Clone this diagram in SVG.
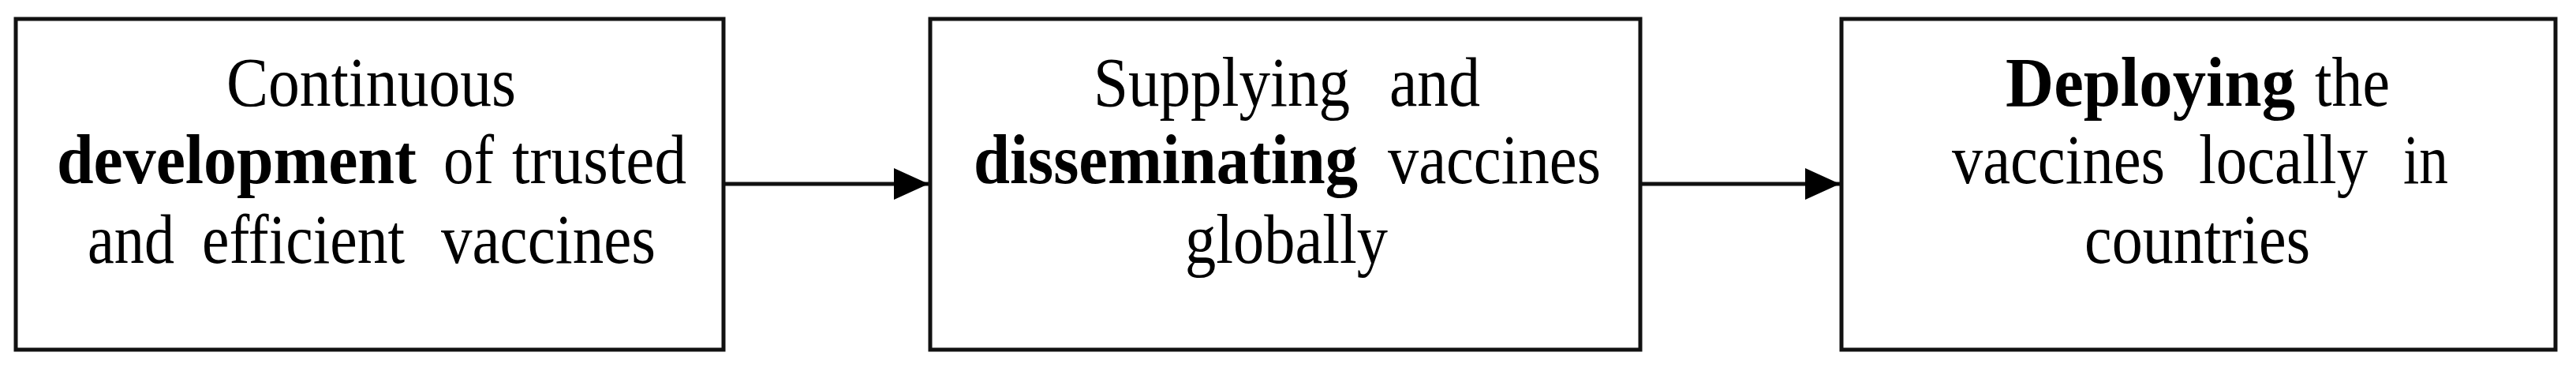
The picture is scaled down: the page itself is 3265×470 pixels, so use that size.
<svg xmlns="http://www.w3.org/2000/svg" width="3265" height="470" viewBox="0 0 3265 470">
<style>
.box{fill:#fff;stroke:#111;stroke-width:5}
.t{font-family:"Liberation Serif","Times New Roman",serif;font-size:88px;fill:#000}
.b{font-weight:bold}
.conn{stroke:#111;stroke-width:5;fill:none}
</style>
<defs>
<marker id="ah" viewBox="0 0 44 40" refX="44" refY="20" markerWidth="44" markerHeight="40" markerUnits="userSpaceOnUse" orient="auto">
<path d="M0,0 L44,20 L0,40 Z" fill="#000"/>
</marker>
</defs>
<rect width="3265" height="470" fill="#fff"/>
<g id="connectors">
<path class="conn" d="M919,233 H1177" marker-end="url(#ah)"/>
<path class="conn" d="M2081,233 H2332" marker-end="url(#ah)"/>
</g>
<g id="node1">
<rect class="box" x="20" y="24" width="897" height="419"/>
<text class="t"><tspan x="287" y="134" textLength="367" lengthAdjust="spacingAndGlyphs">Continuous</tspan></text>
<text class="t"><tspan class="b" x="72" y="232" textLength="456" lengthAdjust="spacingAndGlyphs">development</tspan> <tspan x="562" y="232" textLength="64" lengthAdjust="spacingAndGlyphs">of</tspan> <tspan x="649" y="232" textLength="221" lengthAdjust="spacingAndGlyphs">trusted</tspan></text>
<text class="t"><tspan x="111" y="333" textLength="110" lengthAdjust="spacingAndGlyphs">and</tspan> <tspan x="256" y="333" textLength="257" lengthAdjust="spacingAndGlyphs">efficient</tspan> <tspan x="559" y="333" textLength="272" lengthAdjust="spacingAndGlyphs">vaccines</tspan></text>
</g>
<g id="node2">
<rect class="box" x="1179" y="24" width="900" height="419"/>
<text class="t"><tspan x="1386" y="134" textLength="325" lengthAdjust="spacingAndGlyphs">Supplying</tspan> <tspan x="1761" y="134" textLength="115" lengthAdjust="spacingAndGlyphs">and</tspan></text>
<text class="t"><tspan class="b" x="1234" y="232" textLength="487" lengthAdjust="spacingAndGlyphs">disseminating</tspan> <tspan x="1759" y="232" textLength="270" lengthAdjust="spacingAndGlyphs">vaccines</tspan></text>
<text class="t"><tspan x="1502" y="333" textLength="257" lengthAdjust="spacingAndGlyphs">globally</tspan></text>
</g>
<g id="node3">
<rect class="box" x="2334" y="24" width="905" height="419"/>
<text class="t"><tspan class="b" x="2542" y="134" textLength="367" lengthAdjust="spacingAndGlyphs">Deploying</tspan> <tspan x="2934" y="134" textLength="95" lengthAdjust="spacingAndGlyphs">the</tspan></text>
<text class="t"><tspan x="2474" y="232" textLength="270" lengthAdjust="spacingAndGlyphs">vaccines</tspan> <tspan x="2787" y="232" textLength="214" lengthAdjust="spacingAndGlyphs">locally</tspan> <tspan x="3046" y="232" textLength="57" lengthAdjust="spacingAndGlyphs">in</tspan></text>
<text class="t"><tspan x="2642" y="333" textLength="286" lengthAdjust="spacingAndGlyphs">countries</tspan></text>
</g>
</svg>
